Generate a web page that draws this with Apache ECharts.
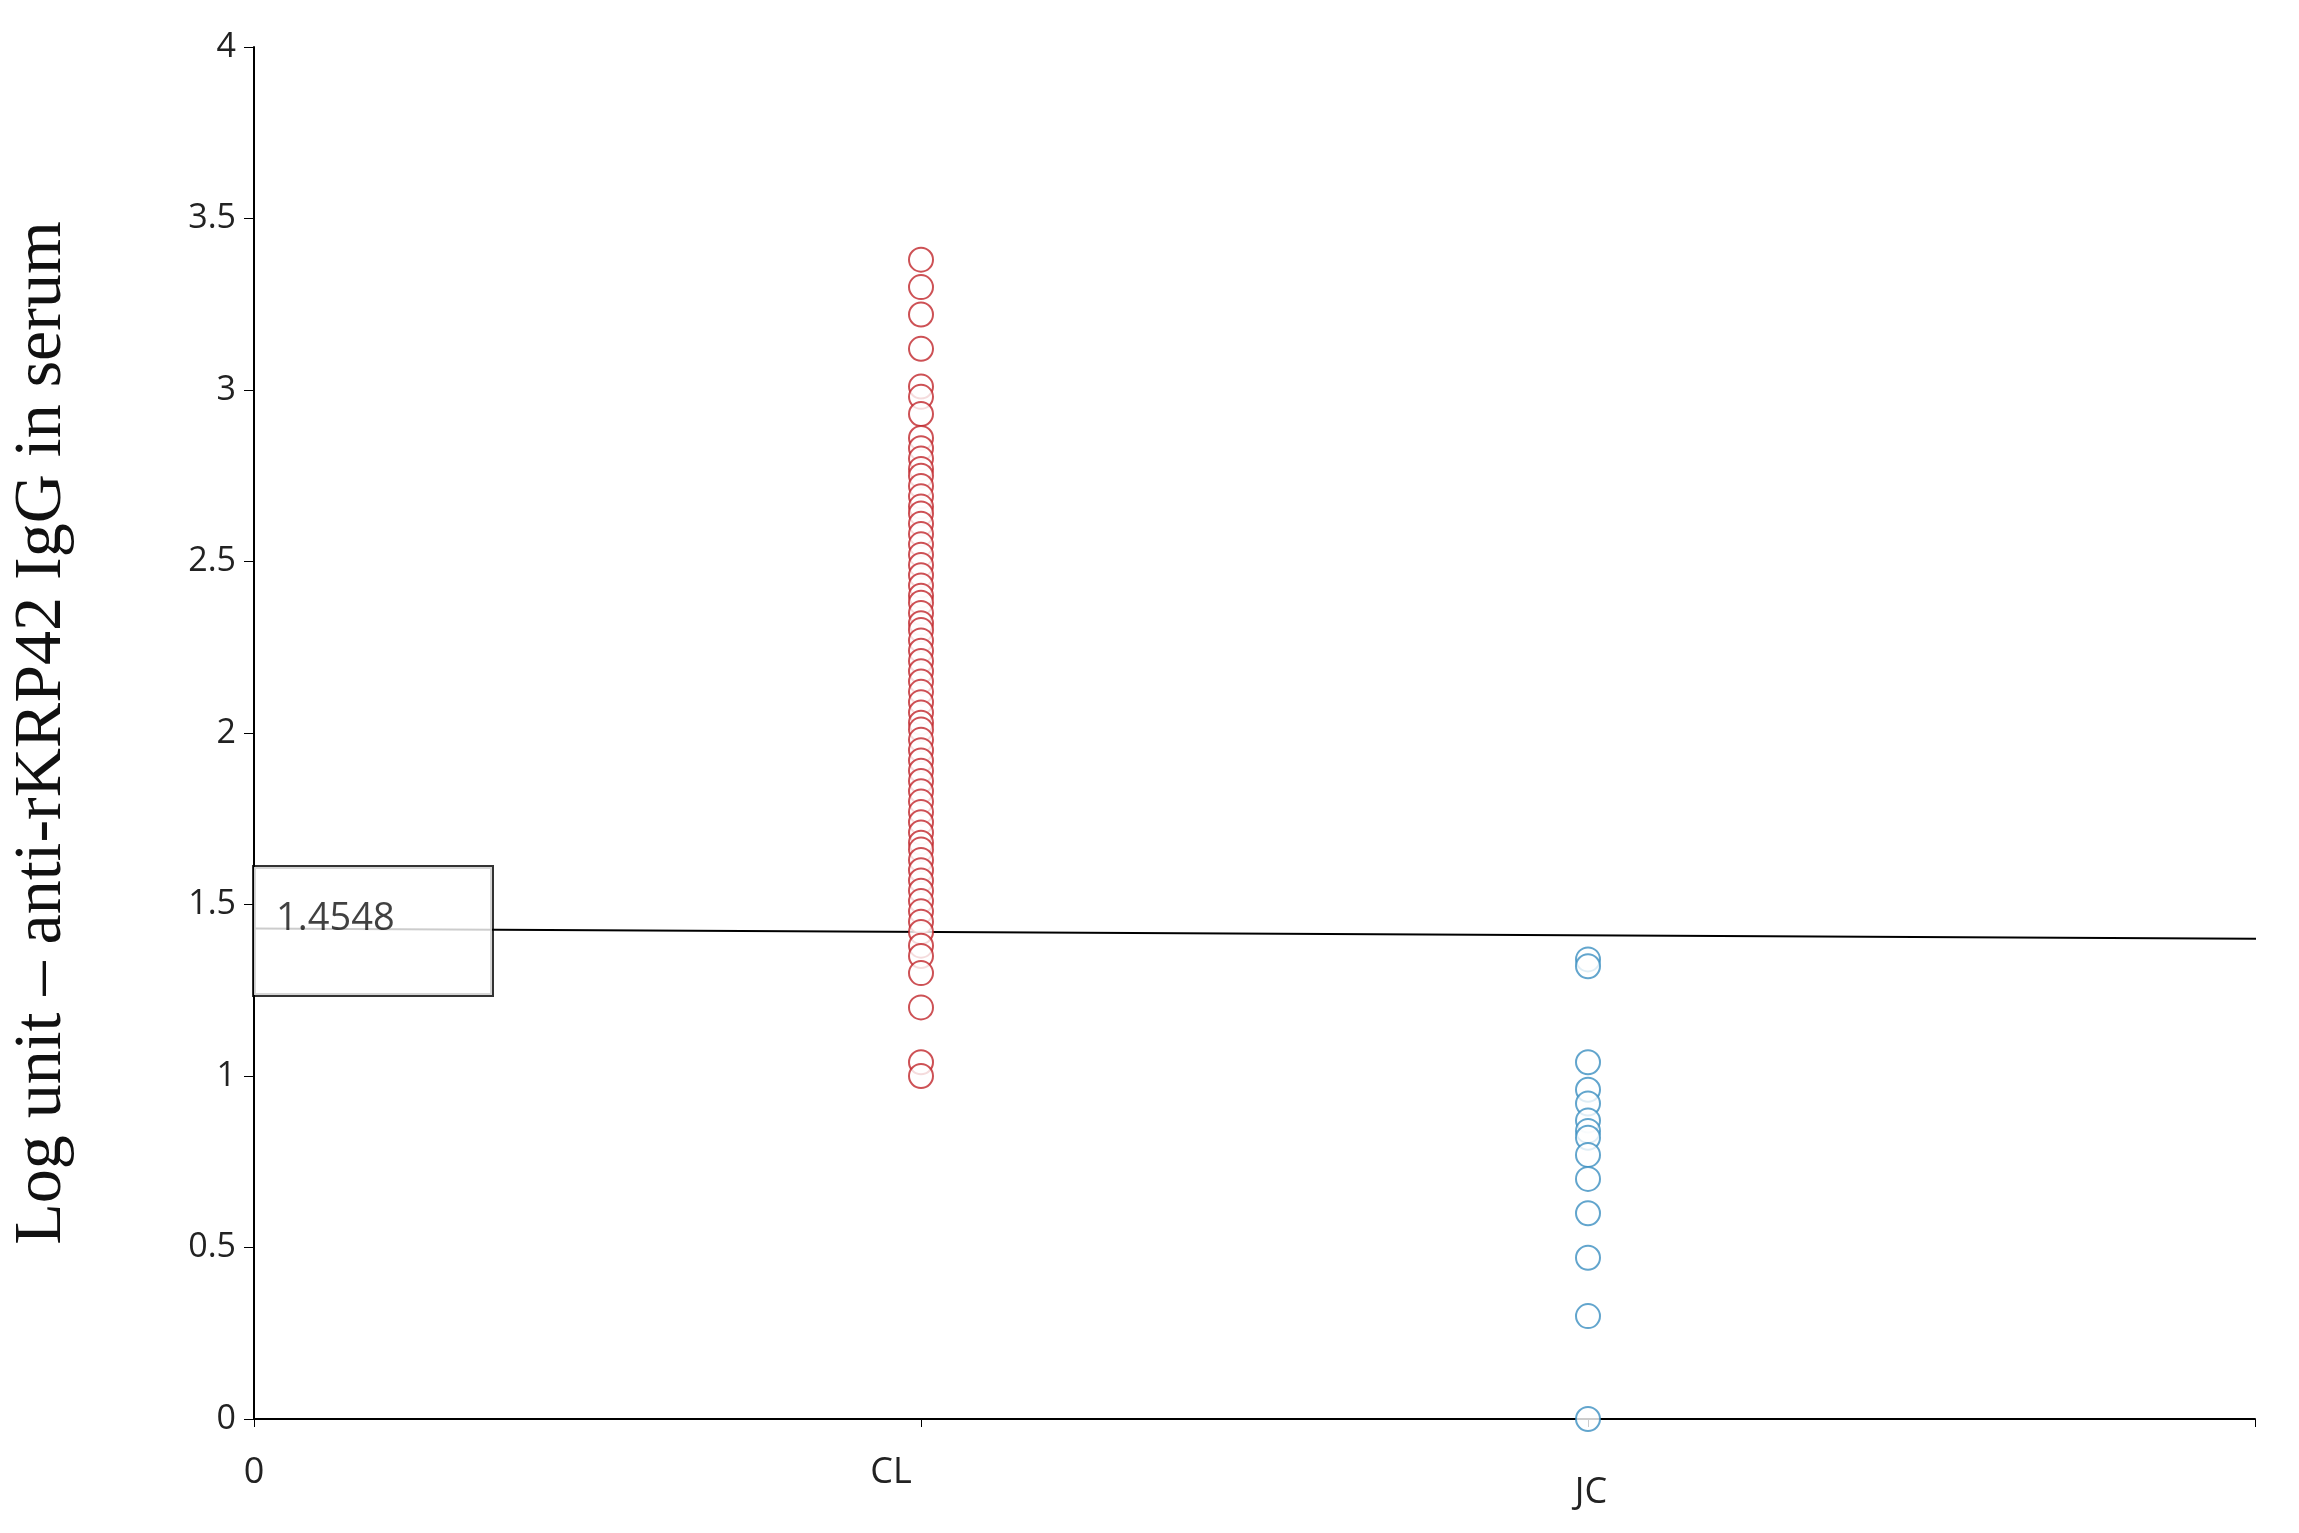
<!DOCTYPE html>
<html><head><meta charset="utf-8">
<script src="https://cdn.jsdelivr.net/npm/echarts@6/dist/echarts.min.js"></script>
<style>html,body{margin:0;padding:0;background:#fff}#c{width:2299px;height:1533px}</style>
</head><body><div id="c"></div>
<script>
const categories = ['0', 'CL', 'JC'];
const clValues = [3.38,3.30,3.22,3.12,3.01,2.98,2.93,2.86,2.83,2.80,2.77,2.75,2.72,2.69,2.66,2.64,2.61,2.58,2.55,2.52,2.49,2.46,2.43,2.40,2.38,2.35,2.32,2.30,2.27,2.24,2.21,2.18,2.15,2.12,2.09,2.06,2.03,2.01,1.98,1.95,1.92,1.89,1.86,1.83,1.80,1.77,1.74,1.71,1.68,1.66,1.63,1.60,1.57,1.54,1.51,1.48,1.45,1.42,1.38,1.35,1.30,1.20,1.04,1.00];
const jcValues = [1.34,1.32,1.04,0.96,0.92,0.87,0.84,0.82,0.77,0.70,0.60,0.47,0.30,0.00];
const cutoffLine = [[0,1.43],[3.03,1.40]];
const cutoffLabel = '1.4548';
const chart = echarts.init(document.getElementById('c'));
chart.setOption({
  animation:false,
  grid:{left:246,right:44,top:47,bottom:114},
  xAxis:{type:'value',min:0,max:3,interval:1,
    axisLine:{lineStyle:{color:'#000',width:2}},
    axisTick:{show:true,length:8,lineStyle:{color:'#000'}},
    splitLine:{show:false},
    axisLabel:{fontSize:36,color:'#222',fontFamily:'Open Sans',margin:36,
      formatter:v=>v==1?'{cl|CL}':v==2?'{jc|JC}':v==0?'0':'',
      rich:{cl:{fontSize:36,color:'#222',fontFamily:'Open Sans',padding:[0,60,0,0]},
            jc:{fontSize:36,color:'#222',fontFamily:'Open Sans',padding:[20,0,0,6]}}}},
  yAxis:{type:'value',min:0,max:4,interval:0.5,
    name:'Log unit \u2013 anti-rKRP42 IgG in serum',nameLocation:'middle',nameGap:178,
    nameTextStyle:{fontFamily:'Liberation Serif',fontSize:68,color:'#111'},
    axisLine:{show:true,lineStyle:{color:'#000',width:2}},
    axisTick:{show:true,length:10,lineStyle:{color:'#000'}},
    splitLine:{show:false},
    axisLabel:{fontSize:34,color:'#222',fontFamily:'Open Sans',margin:18}},
  series:[
    {type:'line',data:cutoffLine,symbol:'none',clip:false,z:1,lineStyle:{color:'#000',width:2}},
    {type:'scatter',data:clValues.map(v=>[1,v]),symbol:'emptyCircle',symbolSize:24,z:3,
      itemStyle:{color:'#c0262a',borderWidth:2}},
    {type:'scatter',data:jcValues.map(v=>[2,v]),symbol:'emptyCircle',symbolSize:24,z:3,
      itemStyle:{color:'#3b8fc0',borderWidth:2}},
    {type:'scatter',data:[[0,1.42]],symbolSize:0,clip:false,z:5,
      label:{show:true,formatter:cutoffLabel,position:[0,-65],align:'left',verticalAlign:'top',
        width:216,height:128,padding:[0,0,0,22],lineHeight:104,
        backgroundColor:'#fff',borderColor:'#000',borderWidth:2,
        fontSize:38,color:'#111',fontFamily:'Open Sans'}}
  ]
});
</script></body></html>
